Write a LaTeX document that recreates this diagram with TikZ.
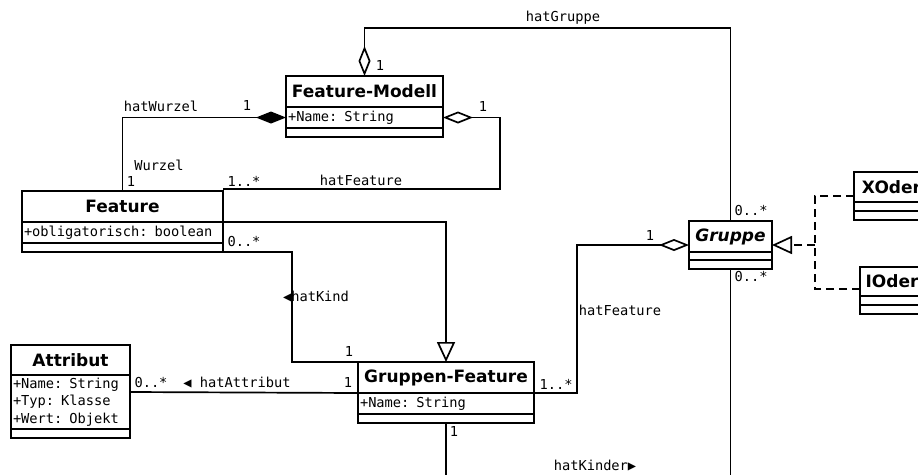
\documentclass[tikz,border=0pt]{standalone}
\usepackage{fontspec}
\setmainfont{DejaVu Sans}
\newfontfamily\monof{DejaVu Sans Mono}
\usetikzlibrary{positioning,arrows.meta}
\newcommand\clsfont{\fontsize{17}{20}\selectfont\bfseries}
\newcommand\attfont{\monof\fontsize{13.7}{17.5}\selectfont}

\begin{document}
\begin{tikzpicture}[
      x=1pt, y=-1pt,
      cls/.style={draw, line width=1.7pt, outer sep=0pt, inner sep=0pt, anchor=north west, minimum height=31pt, font=\clsfont},
      attr/.style={draw, line width=1.7pt, outer sep=0pt, inner xsep=2pt, inner ysep=3pt, minimum height=21pt, align=left, font=\attfont},
      blank/.style={draw, line width=1.7pt, outer sep=0pt, inner sep=0pt, minimum height=9pt},
      lbl/.style={font=\attfont, inner sep=0pt},
      conn/.style={line width=1.7pt},
      agg/.style={conn, {Diamond[open, length=30pt, width=12pt]}-},
      comp/.style={conn, {Diamond[length=30pt, width=12pt]}-},
      gen/.style={conn, -{Triangle[open, length=20pt, width=18pt]}},
      dsh/.style={conn, dash pattern=on 8pt off 5pt}
  ]
    \useasboundingbox (0,0) rectangle (918,474);
    \clip (0,0) rectangle (918,474);

    % classes
    \node[cls, minimum width=157pt] (fm) at (286,76) {Feature-Modell};
    \node[attr, below=0pt of fm, text width=153pt] (fmA) {+Name: String};
    \node[blank, below=0pt of fmA, minimum width=157pt] (fmE) {};

    \node[cls, minimum width=201pt] (ft) at (22,191) {Feature};
    \node[attr, below=0pt of ft, text width=197pt] (ftA) {+obligatorisch: boolean};
    \node[blank, below=0pt of ftA, minimum width=201pt] (ftE) {};

    \node[cls, minimum width=83pt, font=\clsfont\itshape] (gr) at (689,221) {Gruppe};
    \node[blank, below=0pt of gr, minimum width=83pt, minimum height=8pt] (grE1) {};
    \node[blank, below=0pt of grE1, minimum width=83pt] (grE2) {};

    \node[cls, minimum width=176pt] (gf) at (358,362) {Gruppen-Feature};
    \node[attr, below=0pt of gf, text width=172pt] (gfA) {+Name: String};
    \node[blank, below=0pt of gfA, minimum width=176pt] (gfE) {};

    \node[cls, minimum width=119pt, minimum height=30pt] (at) at (11,345) {Attribut};
    \node[attr, below=0pt of at, text width=115pt] (atA) {+Name: String\\+Typ: Klasse\\+Wert: Objekt};
    \node[blank, below=0pt of atA, minimum width=119pt] (atE) {};

    \node[cls, minimum width=75pt, minimum height=30pt] (xo) at (854,172) {XOder};
    \node[blank, below=0pt of xo, minimum width=75pt] (xoE1) {};
    \node[blank, below=0pt of xoE1, minimum width=75pt] (xoE2) {};

    \node[cls, minimum width=64pt, minimum height=29pt] (io) at (860,267) {IOder};
    \node[blank, below=0pt of io, minimum width=64pt] (ioE1) {};
    \node[blank, below=0pt of ioE1, minimum width=64pt] (ioE2) {};

    \coordinate (rj) at (815,245);
    \coordinate (grBot) at (730.5,480);
    \coordinate (gfBot) at (446,480);

    % connectors
    \draw[agg] (fm.north) -- ++(0,-48) -| (gr.north);
    \draw[comp] (fmA.west) -| (ft.north);
    \draw[agg] (fmA.east) -- ++(57,0) |- ([yshift=2pt]ft.north east);
    \draw[gen] (ft.south east) -| (gf.north);
    \draw[conn] (ftE.south east) -- ++(69,0) |- (gf.north west);
    \draw[conn] ([yshift=-17pt]atA.north east) -- (gf.south west);
    \draw[agg] ([yshift=7pt]gr.south west) -- ++(-112,0) |- (gf.south east);
    \draw[conn] (grE2.south) -- (grBot);
    \draw[conn] (gfE.south) -- (gfBot);
    \draw[dsh] ([yshift=6pt]xo.south west) -| (rj);
    \draw[dsh] ([yshift=7pt]io.south west) -| (rj);
    \draw[dsh, -{Triangle[open, length=20pt, width=18pt]}] (rj) -- ([yshift=7pt]gr.south east);

    % labels
    \node[lbl] (lGrp) at (563,18) {hatGruppe};
    \node[lbl] (lGrp1) at (380,66) {1};
    \node[lbl] (lGrpN) at (751,211) {0..*};
    \node[lbl] (lGrpN2) at (751,277) {0..*};
    \node[lbl] (lWz) at (161,106) {hatWurzel};
    \node[lbl] (lWz1) at (247,106) {1};
    \node[lbl] (lWzR) at (159,165) {Wurzel};
    \node[lbl] (lWzR1) at (131,182) {1};
    \node[lbl] (lFtN) at (244,181) {1..*};
    \node[lbl] (lFt) at (361,180) {hatFeature};
    \node[lbl] (lFt1) at (483,107) {1};
    \node[lbl] (lKdN) at (244,242) {0..*};
    \node[lbl] (lKd) at (316,297) {◀hatKind};
    \node[lbl] (lKd1) at (349,352) {1};
    \node[lbl] (lAtN) at (151,383) {0..*};
    \node[lbl] (lAt) at (237,383) {◀ hatAttribut};
    \node[lbl] (lAt1) at (348,383) {1};
    \node[lbl] (lGfN) at (556,384) {1..*};
    \node[lbl] (lGf1) at (650,236) {1};
    \node[lbl] (lGf) at (620,310) {hatFeature};
    \node[lbl] (lKn1) at (454,431) {1};
    \node[lbl] (lKn) at (595,466) {hatKinder▶};
  \end{tikzpicture}
\end{document}
